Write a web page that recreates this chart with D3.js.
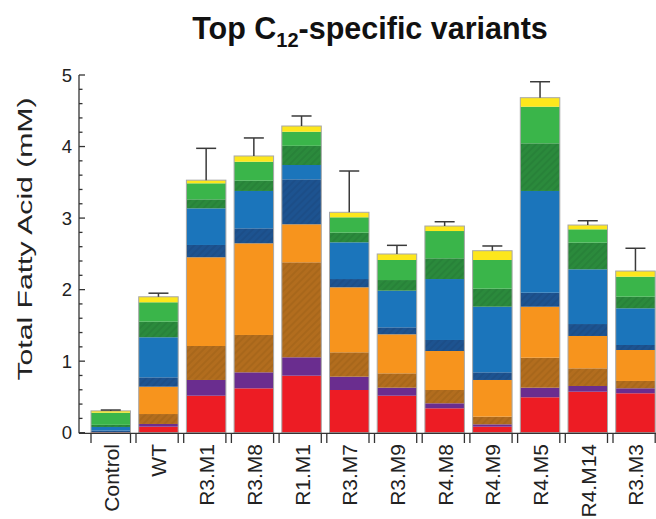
<!DOCTYPE html>
<html><head><meta charset="utf-8">
<script src="https://cdn.jsdelivr.net/npm/d3@7"></script>
<style>body{margin:0;background:#fff}svg{display:block}text{font-family:"Liberation Sans",Arial,sans-serif}</style>
</head><body>
<svg id="c" width="656" height="519"></svg>
<script>
const categories = ["Control","WT","R3.M1","R3.M8","R1.M1","R3.M7","R3.M9","R4.M8","R4.M9","R4.M5","R4.M14","R3.M3"];
const seriesNames = ["C8:0","C10:0","C12:1","C12:0","C14:1","C14:0","C16:1","C16:0","C18:1"];
const c8   = [0.01, 0.084, 0.517, 0.62, 0.797, 0.597, 0.517, 0.341, 0.084, 0.495, 0.573, 0.551];
const c10  = [0.00, 0.038, 0.22, 0.224, 0.257, 0.186, 0.112, 0.07, 0.033, 0.134, 0.08, 0.07];
const c12u = [0.00, 0.139, 0.475, 0.522, 1.328, 0.341, 0.201, 0.186, 0.107, 0.419, 0.247, 0.102];
const c12  = [0.00, 0.382, 1.24, 1.281, 0.531, 0.908, 0.545, 0.545, 0.513, 0.713, 0.452, 0.433];
const c14u = [0.02, 0.131, 0.172, 0.21, 0.629, 0.116, 0.098, 0.154, 0.107, 0.196, 0.167, 0.07];
const c14  = [0.05, 0.56, 0.512, 0.522, 0.2, 0.513, 0.512, 0.852, 0.917, 1.422, 0.765, 0.513];
const c16u = [0.03, 0.218, 0.126, 0.144, 0.268, 0.135, 0.149, 0.29, 0.252, 0.666, 0.372, 0.162];
const c16  = [0.17, 0.271, 0.224, 0.265, 0.197, 0.215, 0.28, 0.381, 0.401, 0.512, 0.187, 0.28];
const c18u = [0.025, 0.077, 0.044, 0.08, 0.08, 0.07, 0.084, 0.07, 0.13, 0.126, 0.06, 0.079];
const errors = [0.012, 0.05, 0.445, 0.252, 0.14, 0.577, 0.121, 0.06, 0.066, 0.223, 0.06, 0.318];
const yTicks = [0,1,2,3,4,5];
const colors = ["#ed1c24","#6a2d8f","#b26d1e","#f7941d","#1d5390","#1b75bb","#2b8a3c","#3ab54a","#fde71c"];
const hatched = [false,false,true,false,true,false,true,false,false];
const hatchLine = [null,null,"#8a5414",null,"#163f70",null,"#1f6a2d",null,null];

const seriesVals = [c8,c10,c12u,c12,c14u,c14,c16u,c16,c18u];
const table = categories.map((c,i)=>{const o={cat:c}; seriesNames.forEach((s,j)=>o[s]=seriesVals[j][i]); o.err=errors[i]; return o;});
const stacked = d3.stack().keys(seriesNames)(table);

const svg = d3.select("#c");
const y = d3.scaleLinear().domain([0,5]).range([432.7,75]);
const x = d3.scaleBand().domain(categories).range([86.9,659.3]).paddingInner(0.172).paddingOuter(0.086);
const bw = x.bandwidth();

const defs = svg.append("defs");
colors.forEach((col,j)=>{
  if(!hatched[j]) return;
  const p = defs.append("pattern").attr("id","h"+j).attr("patternUnits","userSpaceOnUse")
    .attr("width",5).attr("height",5).attr("patternTransform","rotate(45)");
  p.append("rect").attr("width",5).attr("height",5).attr("fill",col);
  p.append("line").attr("x1",1).attr("x2",1).attr("y1",0).attr("y2",5).attr("stroke",hatchLine[j]).attr("stroke-width",1).attr("stroke-opacity",0.5);
});

// Title
const t = svg.append("text").attr("x",370).attr("y",39).attr("text-anchor","middle")
  .attr("font-weight","bold").attr("font-size",30.5).attr("fill","#111");
t.append("tspan").text("Top C");
t.append("tspan").text("12").attr("font-size",20).attr("dy",8);
t.append("tspan").text("-specific variants").attr("dy",-8);

// bars
const g = svg.append("g");
stacked.forEach((layer,j)=>{
  g.selectAll(null).data(layer).join("rect")
    .attr("x",d=>x(d.data.cat)).attr("width",bw)
    .attr("y",d=>y(d[1])).attr("height",d=>Math.max(0,y(d[0])-y(d[1])))
    .attr("fill",hatched[j]?`url(#h${j})`:colors[j]);
});
// outlines
g.selectAll(null).data(table).join("rect")
  .attr("x",d=>x(d.cat)).attr("width",bw)
  .attr("y",(d,i)=>y(stacked[stacked.length-1][i][1])).attr("height",(d,i)=>y(0)-y(stacked[stacked.length-1][i][1]))
  .attr("fill","none").attr("stroke","#a8a8a8").attr("stroke-width",1);
// error bars
const eb = svg.append("g").attr("stroke","#3a3a3a").attr("stroke-width",1.5);
table.forEach((d,i)=>{
  const top = stacked[stacked.length-1][i][1];
  const cx = x(d.cat)+bw/2;
  eb.append("line").attr("x1",cx).attr("x2",cx).attr("y1",y(top)).attr("y2",y(top+d.err));
  eb.append("line").attr("x1",cx-10).attr("x2",cx+10).attr("y1",y(top+d.err)).attr("y2",y(top+d.err));
});

// y axis
const ax = svg.append("g").attr("stroke","#333").attr("stroke-width",1.3);
ax.append("line").attr("x1",79).attr("x2",79).attr("y1",y(5)).attr("y2",y(0)+0.5);
d3.range(0,5.01,0.2).forEach(v=>{
  const major = Math.abs(v-Math.round(v))<1e-6;
  ax.append("line").attr("x1",79).attr("x2",79+(major?6:3.5)).attr("y1",y(v)).attr("y2",y(v));
});
svg.append("g").selectAll("text").data(yTicks).join("text")
  .attr("x",72).attr("y",d=>y(d)).attr("dy","0.36em").attr("text-anchor","end")
  .attr("font-size",18.5).attr("fill","#222").text(d=>d);
// x axis
ax.append("line").attr("x1",79).attr("x2",656).attr("y1",433.3).attr("y2",433.3);
const xt = [x(categories[0])];
categories.forEach(c=>{xt.push(x(c)+bw); xt.push(x(c)+bw+5.5);});
xt.forEach(v=>ax.append("line").attr("x1",v).attr("x2",v).attr("y1",433.3).attr("y2",443));
svg.append("g").selectAll("text").data(categories).join("text")
  .attr("transform",d=>`translate(${x(d)+bw/2+8},444) rotate(-90)`)
  .attr("text-anchor","end").attr("font-size",21).attr("fill","#222").text(d=>d);

// y label
svg.append("text").attr("transform","translate(32,239) rotate(-90)")
  .attr("text-anchor","middle").attr("font-size",21).attr("fill","#222")
  .attr("textLength",283).attr("lengthAdjust","spacingAndGlyphs")
  .text("Total Fatty Acid (mM)");
</script>
</body></html>
